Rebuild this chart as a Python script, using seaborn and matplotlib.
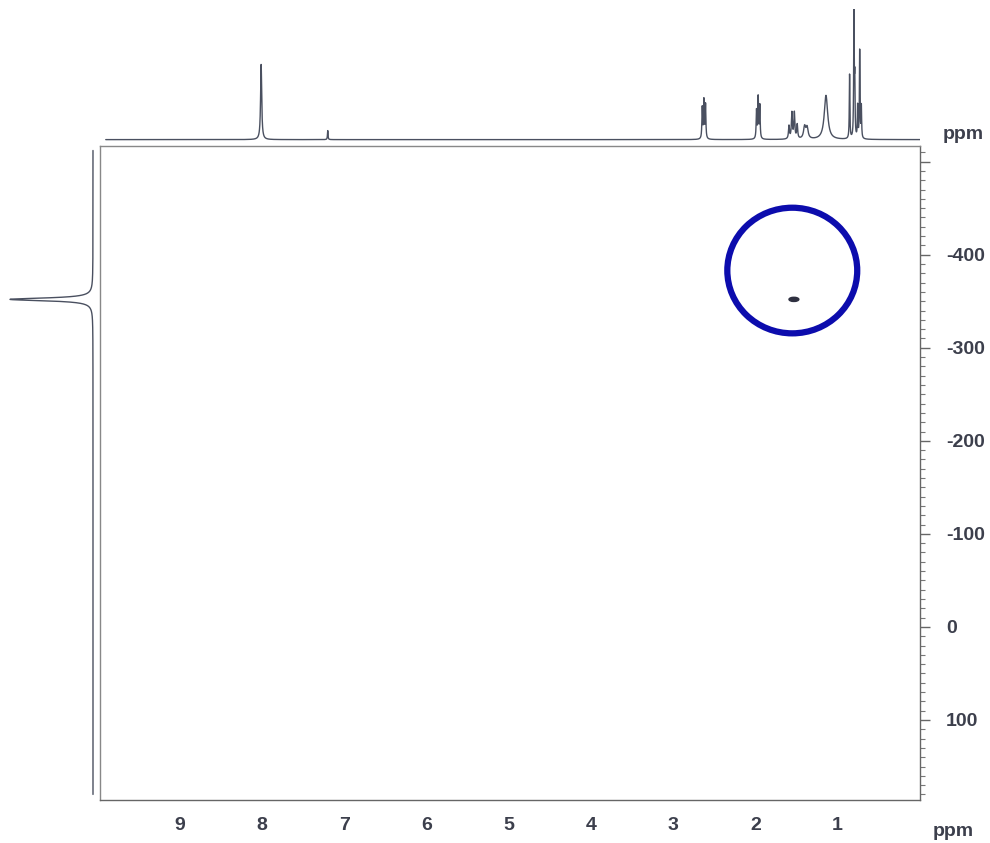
import numpy as np
import seaborn as sns
import matplotlib.pyplot as plt
from matplotlib.patches import Ellipse

# 1H projection (top): peak positions (ppm), heights, half widths
h_ppm = [8.01, 7.20, 2.645, 2.625, 2.605, 1.985, 1.965, 1.945,
         1.59, 1.555, 1.525, 1.49, 1.40, 1.37, 1.14, 0.853,
         0.80, 0.79, 0.755, 0.73, 0.71]
h_height = [75, 9, 31, 38, 34, 28, 41, 33,
            13, 26, 26, 14, 12, 11, 44, 64,
            123, 54, 32, 88, 32]
h_width = [0.008, 0.004, 0.005, 0.005, 0.005, 0.005, 0.005, 0.005,
           0.007, 0.007, 0.007, 0.007, 0.015, 0.015, 0.025, 0.004,
           0.004, 0.004, 0.004, 0.004, 0.004]

# 15N projection (left)
n_ppm = [-352]
n_height = [83]
n_width = [1.8]

# cross peak and highlighted region
cross_h = [1.53]
cross_n = [-352]
circle_center = (1.55, -383)

x_ticks = [1, 2, 3, 4, 5, 6, 7, 8, 9]
y_ticks = [-500, -400, -300, -200, -100, 0, 100]
y_labels = ["", "-400", "-300", "-200", "-100", "0", "100"]

sns.set_theme(style="white")
plt.rcParams["font.family"] = ["Liberation Sans", "DejaVu Sans"]
plt.rcParams["axes.unicode_minus"] = False

line_col = "#4a5060"
text_col = "#3c3f4c"

fig = plt.figure(figsize=(9.9, 8.43), dpi=100)
ax = fig.add_axes([0.101, 0.051, 0.828, 0.776])
ax_top = fig.add_axes([0.101, 0.832, 0.828, 0.157], sharex=ax)
ax_left = fig.add_axes([0.0, 0.051, 0.1, 0.776], sharey=ax)

# top 1D spectrum
xs = np.linspace(9.9, -0.05, 12000)
top = np.zeros_like(xs)
for p, hgt, w in zip(h_ppm, h_height, h_width):
    top += hgt / (1 + ((xs - p) / w) ** 2)
sns.lineplot(x=xs, y=top, ax=ax_top, color=line_col, lw=1.0, sort=False, estimator=None)
ax_top.set_ylim(-2, 130)
ax_top.axis("off")
fig.text(0.952, 0.835, "ppm", fontsize=14, fontweight="bold", color=text_col)

# left 1D spectrum
ys = np.linspace(-512, 180, 6000)
left = np.zeros_like(ys)
for p, hgt, w in zip(n_ppm, n_height, n_width):
    left += hgt / (1 + ((ys - p) / w) ** 2)
sns.lineplot(x=left, y=ys, ax=ax_left, color=line_col, lw=1.0, sort=False, estimator=None)
ax_left.set_xlim(93, -6)
ax_left.axis("off")

# 2D map
for xh, yn in zip(cross_h, cross_n):
    ax.add_patch(Ellipse((xh, yn), 0.12, 4.5, color="#2e3040"))
ax.add_patch(Ellipse(circle_center, 1.58, 135, fill=False, ec="#0c0cad", lw=4.5))

ax.set_xlim(9.97, 0)
ax.set_ylim(186, -517)
for s in ["top", "left"]:
    ax.spines[s].set_color("#888888")
    ax.spines[s].set_linewidth(1.0)
for s in ["bottom", "right"]:
    ax.spines[s].set_color("#666666")
    ax.spines[s].set_linewidth(1.0)

ax.set_xticks(x_ticks)
ax.set_xticks(np.arange(0.1, 10.0, 0.1), minor=True)
ax.yaxis.tick_right()
ax.set_yticks(y_ticks, labels=y_labels)
ax.set_yticks(np.arange(-510, 190, 10), minor=True)
ax.tick_params(axis="both", which="major", direction="out", length=7, width=1,
               color="#666666", labelsize=14, labelcolor=text_col)
ax.tick_params(axis="both", which="minor", direction="out", length=3.5, width=0.8,
               color="#777777")
ax.tick_params(axis="x", which="major", pad=5)
ax.tick_params(axis="y", which="major", pad=12)
for lab in ax.get_xticklabels() + ax.get_yticklabels():
    lab.set_fontweight("bold")
fig.text(0.942, 0.008, "ppm", fontsize=14, fontweight="bold", color=text_col)

fig.savefig("out.png", dpi=100, facecolor="white")
